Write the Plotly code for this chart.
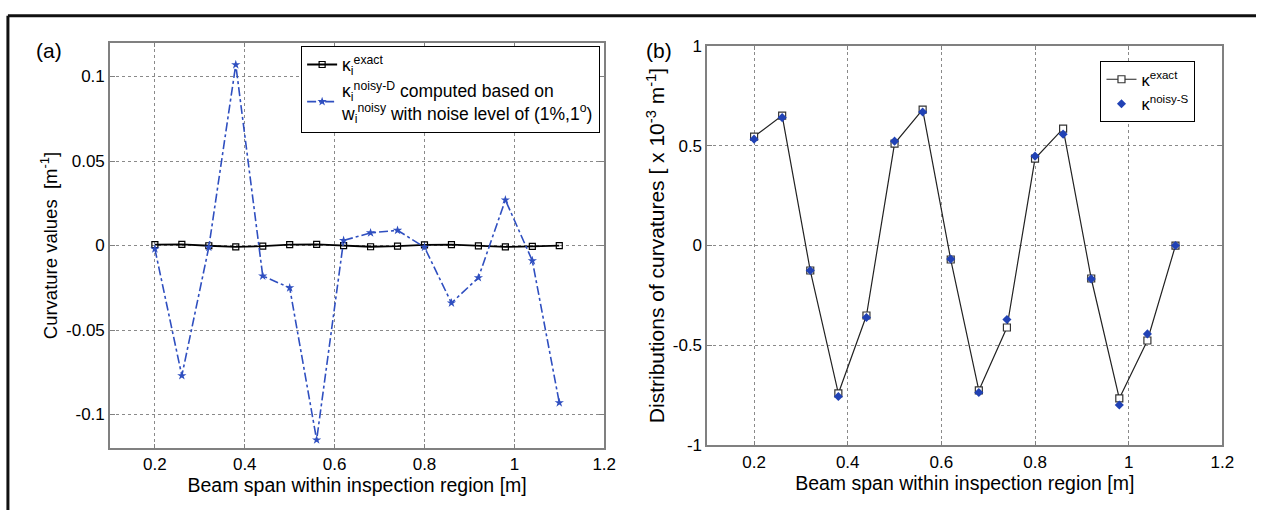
import plotly.graph_objects as go

# Measurement positions along the beam [m]
span_x = [0.20, 0.26, 0.32, 0.38, 0.44, 0.50, 0.56, 0.62,
          0.68, 0.74, 0.80, 0.86, 0.92, 0.98, 1.04, 1.10]

# (a) curvature values [1/m]
kappa_exact_a = [0.00054, 0.00065, -0.00013, -0.00074, -0.00035, 0.00051, 0.00068, -0.00007,
                 -0.00073, -0.00041, 0.00043, 0.00058, -0.00017, -0.00077, -0.00047, 0.0]
kappa_noisy_d = [-0.002, -0.077, -0.001, 0.107, -0.018, -0.025, -0.115, 0.003,
                 0.0075, 0.009, -0.001, -0.034, -0.019, 0.027, -0.009, -0.093]

# (b) curvature distributions [x 1e-3 1/m]
kappa_exact_b = [0.545, 0.65, -0.125, -0.74, -0.35, 0.51, 0.68, -0.07,
                 -0.725, -0.41, 0.435, 0.585, -0.165, -0.765, -0.475, 0.0]
kappa_noisy_s = [0.532, 0.64, -0.125, -0.755, -0.36, 0.522, 0.668, -0.068,
                 -0.735, -0.37, 0.447, 0.557, -0.167, -0.798, -0.442, 0.0]

x_ticks = [0.2, 0.4, 0.6, 0.8, 1.0, 1.2]
x_tick_text = ["0.2", "0.4", "0.6", "0.8", "1", "1.2"]
ya_ticks = [-0.1, -0.05, 0, 0.05, 0.1]
ya_tick_text = ["-0.1", "-0.05", "0", "0.05", "0.1"]
yb_ticks = [-1, -0.5, 0, 0.5, 1]
yb_tick_text = ["-1", "-0.5", "0", "0.5", "1"]

W, H = 1268, 520
FONT = "Liberation Sans, Arial, sans-serif"
BLUE = "#2f4fc0"
AXIS_GREY = "#808080"

fig = go.Figure()

fig.add_trace(go.Scatter(
    x=span_x, y=kappa_exact_a, mode="lines+markers",
    name="κ<sub>i</sub><sup>exact</sup>",
    line=dict(color="black", width=1.8),
    marker=dict(symbol="square-open", size=6, color="black", line=dict(width=1.2)),
    xaxis="x", yaxis="y", legend="legend"))

fig.add_trace(go.Scatter(
    x=span_x, y=kappa_noisy_d, mode="lines+markers",
    name="κ<sub>i</sub><sup>noisy-D</sup> computed based on<br>w<sub>i</sub><sup>noisy</sup> with noise level of (1%,1<sup>o</sup>)",
    line=dict(color=BLUE, width=1.6, dash="dashdot"),
    marker=dict(symbol="star", size=7, color=BLUE),
    xaxis="x", yaxis="y", legend="legend"))

fig.add_trace(go.Scatter(
    x=span_x, y=kappa_exact_b, mode="lines+markers",
    name="κ<sup>exact</sup>",
    line=dict(color="#222222", width=1.2),
    marker=dict(symbol="square", size=7, color="white",
                line=dict(color="#333333", width=1.2)),
    xaxis="x2", yaxis="y2", legend="legend2"))

fig.add_trace(go.Scatter(
    x=span_x, y=kappa_noisy_s, mode="markers",
    name="κ<sup>noisy-S</sup>",
    marker=dict(symbol="diamond", size=7, color="#2142b5"),
    xaxis="x2", yaxis="y2", legend="legend2"))


def px_x(p):
    return p / W


def px_y(p):
    return 1 - p / H


axis_common = dict(
    showline=True, linecolor=AXIS_GREY, linewidth=1.5, mirror="ticks",
    ticks="inside", ticklen=5, tickcolor=AXIS_GREY,
    showgrid=True, gridcolor="#8a8a8a", gridwidth=1, griddash="dot",
    zeroline=False, tickfont=dict(family=FONT, size=17, color="black"),
)

fig.update_layout(
    width=W, height=H,
    margin=dict(l=0, r=0, t=0, b=0),
    paper_bgcolor="white", plot_bgcolor="white",
    font=dict(family=FONT, size=17, color="black"),
    xaxis=dict(domain=[px_x(111), px_x(610)], range=[0.1, 1.2],
               tickvals=x_ticks, ticktext=x_tick_text, anchor="y",
               title=dict(text="Beam span within inspection region [m]",
                          font=dict(size=19.5), standoff=3),
               **axis_common),
    yaxis=dict(domain=[px_y(456), px_y(35)], range=[-0.12, 0.12],
               tickvals=ya_ticks, ticktext=ya_tick_text, anchor="x",
               title=dict(text="Curvature values  [m<sup>-1</sup>]",
                          font=dict(size=18.5), standoff=4),
               **axis_common),
    xaxis2=dict(domain=[px_x(714), px_x(1234)], range=[0.1, 1.2],
                tickvals=x_ticks, ticktext=x_tick_text, anchor="y2",
                title=dict(text="Beam span within inspection region [m]",
                           font=dict(size=19.5), standoff=3),
                **axis_common),
    yaxis2=dict(domain=[px_y(453), px_y(38)], range=[-1, 1],
                tickvals=yb_ticks, ticktext=yb_tick_text, anchor="x2",
                title=dict(text="Distributions of curvatures [ x 10<sup>-3</sup> m<sup>-1</sup>]",
                           font=dict(size=21), standoff=2),
                **axis_common),
    legend=dict(x=px_x(304), y=px_y(38), xanchor="left", yanchor="top",
                bgcolor="white", bordercolor="black", borderwidth=1,
                font=dict(family=FONT, size=17.5), tracegroupgap=4,
                itemwidth=30),
    legend2=dict(x=px_x(1111), y=px_y(54), xanchor="left", yanchor="top",
                 bgcolor="white", bordercolor="black", borderwidth=1,
                 font=dict(family=FONT, size=16.5), itemwidth=30),
    showlegend=True,
)

# Panel letters
fig.add_annotation(text="(a)", x=px_x(34), y=px_y(43), xref="paper", yref="paper",
                   xanchor="left", yanchor="middle", showarrow=False,
                   font=dict(family=FONT, size=21))
fig.add_annotation(text="(b)", x=px_x(650), y=px_y(43), xref="paper", yref="paper",
                   xanchor="left", yanchor="middle", showarrow=False,
                   font=dict(family=FONT, size=21))

# Outer frame (top and left edges)
fig.add_shape(type="line", xref="paper", yref="paper",
              x0=px_x(8), y0=px_y(7), x1=1, y1=px_y(7),
              line=dict(color="#111111", width=3))
fig.add_shape(type="line", xref="paper", yref="paper",
              x0=px_x(8), y0=px_y(7), x1=px_x(8), y1=0,
              line=dict(color="#111111", width=3))

fig.write_html("out.html")
